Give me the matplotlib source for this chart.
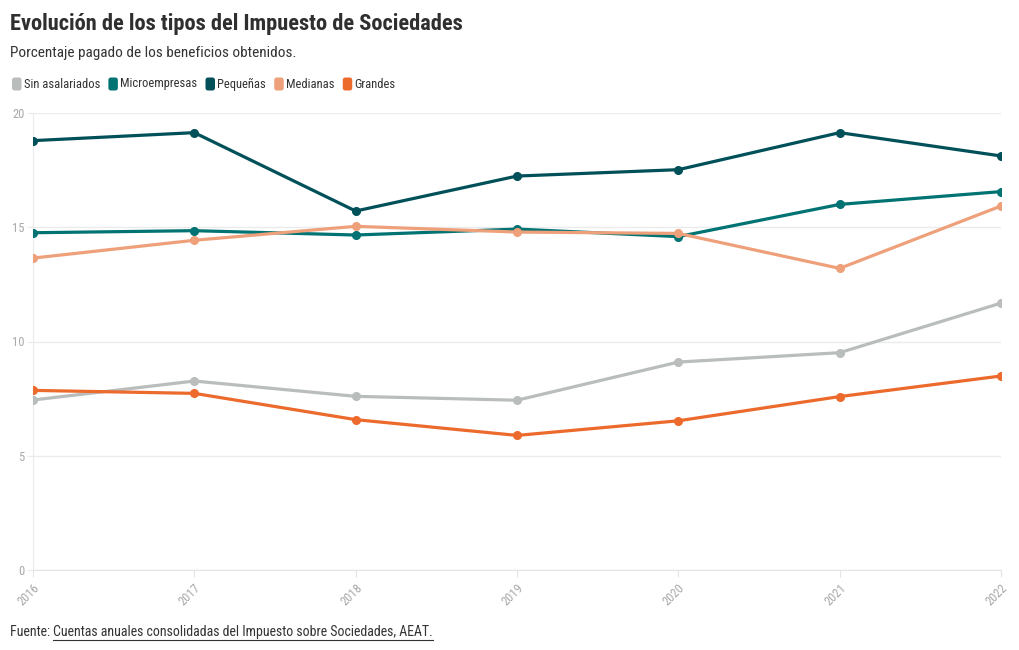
import matplotlib
matplotlib.use("Agg")
import matplotlib.pyplot as plt
from matplotlib.patches import FancyBboxPatch
from matplotlib.transforms import IdentityTransform
from matplotlib import font_manager as fm

years = [2016, 2017, 2018, 2019, 2020, 2021, 2022]
series_names = ["Sin asalariados", "Microempresas", "Pequeñas", "Medianas", "Grandes"]
sin_asalariados = [7.44, 8.27, 7.60, 7.43, 9.10, 9.51, 11.68]
microempresas = [14.76, 14.85, 14.66, 14.92, 14.59, 16.00, 16.56]
pequenas = [18.79, 19.14, 15.71, 17.24, 17.52, 19.14, 18.12]
medianas = [13.65, 14.43, 15.04, 14.79, 14.73, 13.20, 15.93]
grandes = [7.86, 7.73, 6.58, 5.89, 6.53, 7.59, 8.49]
colors = ["#b9bdbc", "#007372", "#00505a", "#eea07b", "#ec6a2c"]
y_ticks = [0, 5, 10, 15, 20]

names = {f.name for f in fm.fontManager.ttflist}
font = "Roboto"
for cand in ["Roboto Condensed", "Barlow Semi Condensed", "Asap Condensed", "Archivo Narrow"]:
    if cand in names:
        font = cand
        break
plt.rcParams["font.family"] = [font, "DejaVu Sans"]

W, H = 1020, 650
fig = plt.figure(figsize=(W / 100, H / 100), dpi=100)
ax = fig.add_axes([33 / W, (H - 570) / H, (1001 - 33) / W, (570 - 113) / H])

data = [sin_asalariados, microempresas, pequenas, medianas, grandes]
for vals, c in zip(data, colors):
    ax.plot(years, vals, color=c, lw=2.3, marker="o", ms=5.5, zorder=3, solid_capstyle="round")

ax.set_xlim(years[0], years[-1])
ax.set_ylim(0, 20)
ax.set_yticks(y_ticks)
ax.set_xticks(years)
ax.set_xticklabels([str(y) for y in years], rotation=45, ha="right", rotation_mode="anchor")
ax.grid(axis="y", color="#ebebeb", lw=1)
ax.grid(axis="x", visible=False)
for s in ["top", "right"]:
    ax.spines[s].set_visible(False)
ax.spines["left"].set_color("#ebebeb")
ax.spines["bottom"].set_color("#e4e4e4")
ax.tick_params(axis="y", length=4, color="#ebebeb", labelcolor="#a8a8a8", labelsize=9, pad=2)
ax.tick_params(axis="x", length=5, color="#e4e4e4", labelcolor="#a8a8a8", labelsize=9, pad=3)
ax.set_axisbelow(True)

def px(x, y):
    return x / W, 1 - y / H

fig.text(*px(10, 24), "Evolución de los tipos del Impuesto de Sociedades", fontsize=16.1,
         fontweight="bold", color="#2f2f2f", va="center", ha="left")
fig.text(*px(10, 53), "Porcentaje pagado de los beneficios obtenidos.", fontsize=11,
         color="#333333", va="center", ha="left")

fig.canvas.draw()
renderer = fig.canvas.get_renderer()

# legend
x = 12
ly = 84
for name, c in zip(series_names, colors):
    p = FancyBboxPatch((x, H - (ly + 6.5)), 9.5, 13,
                       boxstyle="round,pad=0,rounding_size=2.5", transform=IdentityTransform(),
                       facecolor=c, edgecolor="none")
    fig.patches.append(p)
    t = fig.text(*px(x + 12, ly), name, fontsize=9, color="#333333", va="center", ha="left")
    bb = t.get_window_extent(renderer)
    x = x + 12 + bb.width + 8

# footer
t1 = fig.text(*px(10, 632), "Fuente: ", fontsize=10, color="#333333", va="center", ha="left")
bb1 = t1.get_window_extent(renderer)
t2 = fig.text(bb1.x1 / W, 1 - 632 / H, "Cuentas anuales consolidadas del Impuesto sobre Sociedades, AEAT.",
              fontsize=10, color="#333333", va="center", ha="left")
bb2 = t2.get_window_extent(renderer)
fig.add_artist(plt.Line2D([bb2.x0 / W, bb2.x1 / W], [1 - 640 / H, 1 - 640 / H],
                          transform=fig.transFigure, color="#333333", lw=0.8))

fig.savefig("out.png", dpi=100, facecolor="white")
